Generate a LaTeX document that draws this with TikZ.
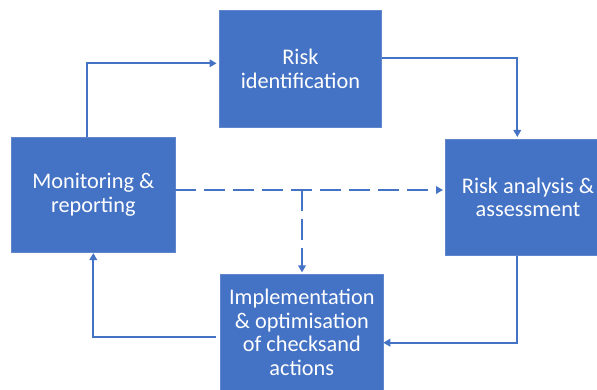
\documentclass[tikz,border=0pt]{standalone}
\usepackage{fontspec}
\setmainfont{Carlito}
\usetikzlibrary{arrows.meta}
\definecolor{officeblue}{HTML}{4472C4}
\tikzset{
  stagebox/.style={fill=officeblue, draw=officeblue!85!white, line width=0.6pt, text=white, align=center,
    font=\fontsize{22.3}{23.5}\selectfont, inner sep=0pt},
  conn/.style={draw=officeblue, line width=1.8pt, -{Triangle[length=7pt,width=7.5pt]}},
  dashconn/.style={conn, dash pattern=on 21pt off 8pt},
}
\begin{document}
\begin{tikzpicture}[x=1pt,y=-1pt]
\clip (0,0) rectangle (597,390);
\fill[white] (0,0) rectangle (597,390);
\node[stagebox, minimum width=162pt, minimum height=117pt] (ident) at (300.4,68.7) {Risk\\identification};
\node[stagebox, minimum width=163.3pt, minimum height=115.7pt] (monitor) at (93.3,194.9) {Monitoring \&\\reporting};
\node[stagebox, minimum width=166pt, minimum height=116.2pt] (analysis) at (528,197.4) {Risk analysis \&\\assessment};
\node[stagebox, minimum width=162.3pt, minimum height=117pt] (impl) at (301.8,332.5) {Implementation\\\& optimisation\\of checksand\\actions};
\coordinate (dj) at (302,190);
% solid cycle connectors
\draw[conn, shorten >=2.5pt] ([xshift=-6.6pt]monitor.north) |- ([yshift=5.4pt]ident.west);
\draw[conn, shorten >=2pt] ([yshift=11pt]ident.east) -| ([xshift=-10.7pt]analysis.north);
\draw[conn] ([xshift=-10.7pt]analysis.south) |- ([yshift=-10.2pt]impl.east);
\draw[conn] ([yshift=-4.8pt,xshift=-4pt]impl.west) -| (monitor.south);
% dashed connectors
\draw[dashconn, shorten >=1.7pt] (monitor.east |- dj) -- (analysis.west |- dj);
\draw[dashconn, shorten >=1.3pt] (dj) -- (impl.north -| dj);
\end{tikzpicture}
\end{document}
